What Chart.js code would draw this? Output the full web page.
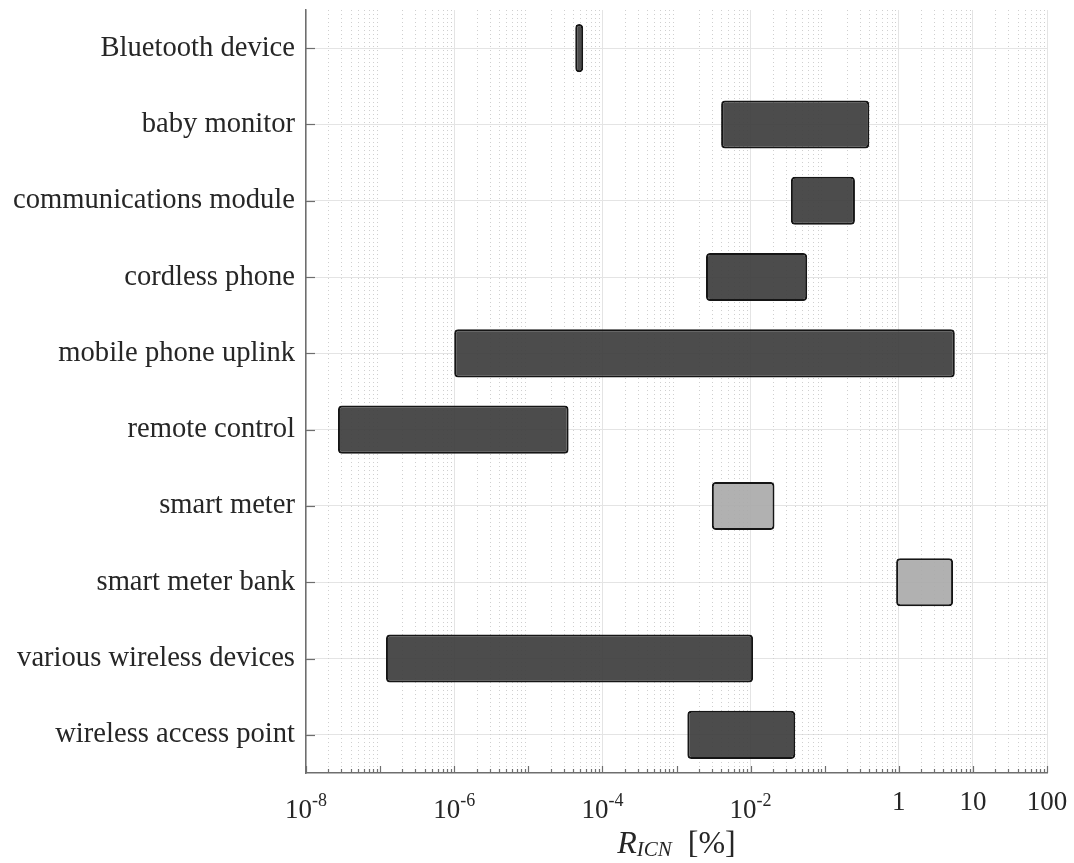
<!DOCTYPE html>
<html lang="en">
<head>
    <meta charset="UTF-8">
    <meta name="viewport" content="width=device-width, initial-scale=1.0">
    <title>R_ICN ranges</title>
    <style>
        html, body { margin: 0; padding: 0; background: #fff; }
        #wrap { width: 1074px; height: 863px; }
    </style>
</head>
<body>
    <div id="wrap">
        <canvas id="myChart"></canvas>
    </div>

    <script src="https://cdn.jsdelivr.net/npm/chart.js"></script>

    <script>
        // device categories, top to bottom
        const devices = [
            'Bluetooth device',
            'baby monitor',
            'communications module',
            'cordless phone',
            'mobile phone uplink',
            'remote control',
            'smart meter',
            'smart meter bank',
            'various wireless devices',
            'wireless access point'
        ];
        // lower / upper end of each range, in %
        const lowValues  = [4.3e-5, 4.0e-3, 0.035, 2.5e-3, 1.0e-6, 2.7e-8, 3.0e-3, 0.92, 1.2e-7, 1.4e-3];
        const highValues = [5.5e-5, 0.40, 0.256, 0.058, 5.7, 3.5e-5, 0.021, 5.4, 0.0108, 0.040];
        // lighter bars for the smart meter entries
        const isMeter = [false, false, false, false, false, false, true, true, false, false];

        // x axis labels: [mantissa, exponent]
        const tickValues = [1e-8, 1e-6, 1e-4, 1e-2, 1, 10, 100];
        const tickLabels = [['10', '-8'], ['10', '-6'], ['10', '-4'], ['10', '-2'], ['1', ''], ['10', ''], ['100', '']];

        const SERIF = '"Liberation Serif", "Times New Roman", serif';

        const ranges = devices.map((d, i) => [lowValues[i], highValues[i]]);

        // dotted minor grid, inward ticks, x labels and axis title
        const axisDecor = {
            id: 'axisDecor',
            beforeDatasetsDraw(chart) {
                const {ctx, chartArea: a, scales: {x}} = chart;
                ctx.save();
                ctx.strokeStyle = '#cfcfcf';
                ctx.lineWidth = 1;
                ctx.setLineDash([1, 3]);
                for (let e = -8; e < 2; e++) {
                    for (let k = 2; k <= 9; k++) {
                        const px = Math.round(x.getPixelForValue(k * Math.pow(10, e))) + 0.5;
                        ctx.beginPath();
                        ctx.moveTo(px, a.top);
                        ctx.lineTo(px, a.bottom);
                        ctx.stroke();
                    }
                }
                ctx.restore();
            },
            afterDraw(chart) {
                const {ctx, chartArea: a, scales: {x, y}} = chart;
                ctx.save();
                ctx.strokeStyle = '#6e6e6e';
                ctx.lineWidth = 1.2;
                // bottom ticks pointing up
                for (let e = -8; e <= 2; e++) {
                    for (let k = 1; k <= 9; k++) {
                        const v = k * Math.pow(10, e);
                        if (v > 100 * 1.0001) break;
                        const px = Math.round(x.getPixelForValue(v)) + 0.5;
                        const len = k === 1 ? 7 : 4;
                        ctx.beginPath();
                        ctx.moveTo(px, a.bottom);
                        ctx.lineTo(px, a.bottom - len);
                        ctx.stroke();
                    }
                }
                // left ticks pointing right
                devices.forEach((d, i) => {
                    const py = Math.round(y.getPixelForValue(i)) + 0.5;
                    ctx.beginPath();
                    ctx.moveTo(a.left, py);
                    ctx.lineTo(a.left + 9, py);
                    ctx.stroke();
                });

                // x tick labels with superscript exponents
                ctx.fillStyle = '#262626';
                ctx.textBaseline = 'alphabetic';
                ctx.textAlign = 'left';
                tickValues.forEach((v, i) => {
                    const [base, exp] = tickLabels[i];
                    const px = x.getPixelForValue(v);
                    ctx.font = '27px ' + SERIF;
                    const wb = ctx.measureText(base).width;
                    ctx.font = '18px ' + SERIF;
                    const we = exp ? ctx.measureText(exp).width : 0;
                    const x0 = px - (wb + we) / 2;
                    const baseY = exp ? a.bottom + 45 : a.bottom + 37;
                    ctx.font = '27px ' + SERIF;
                    ctx.fillText(base, x0, baseY);
                    if (exp) {
                        ctx.font = '18px ' + SERIF;
                        ctx.fillText(exp, x0 + wb, baseY - 12);
                    }
                });

                // axis title: R_ICN [%]
                const cx = (a.left + a.right) / 2;
                const ty = a.bottom + 80;
                ctx.font = 'italic 32px ' + SERIF;
                const wR = ctx.measureText('R').width;
                ctx.font = 'italic 21px ' + SERIF;
                const wSub = ctx.measureText('ICN').width;
                ctx.font = '32px ' + SERIF;
                const wUnit = ctx.measureText('[%]').width;
                const gap = 16;
                let tx = cx - (wR + wSub + gap + wUnit) / 2;
                ctx.font = 'italic 32px ' + SERIF;
                ctx.fillText('R', tx, ty);
                tx += wR;
                ctx.font = 'italic 21px ' + SERIF;
                ctx.fillText('ICN', tx, ty + 3);
                tx += wSub + gap;
                ctx.font = '32px ' + SERIF;
                ctx.fillText('[%]', tx, ty);
                ctx.restore();
            }
        };

        const ctx = document.getElementById('myChart');

        new Chart(ctx, {
            type: 'bar',
            data: {
                labels: devices,
                datasets: [{
                    data: ranges,
                    backgroundColor: isMeter.map(m => m ? 'rgba(170,170,170,0.92)' : 'rgba(62,62,62,0.93)'),
                    borderColor: '#151515',
                    borderWidth: 2,
                    borderRadius: 4,
                    borderSkipped: false,
                    barPercentage: 0.63,
                    categoryPercentage: 1.0
                }]
            },
            options: {
                indexAxis: 'y',
                responsive: true,
                maintainAspectRatio: false,
                animation: false,
                layout: { padding: { top: 10, right: 27, left: 0, bottom: 0 } },
                plugins: {
                    legend: { display: false },
                    tooltip: { enabled: false }
                },
                scales: {
                    x: {
                        type: 'logarithmic',
                        min: 1e-8,
                        max: 100,
                        afterBuildTicks: (scale) => {
                            scale.ticks = tickValues.map(v => ({ value: v }));
                        },
                        afterFit: (scale) => {
                            scale.height = 90;
                            scale.paddingLeft = 0;
                            scale.paddingRight = 0;
                        },
                        ticks: { display: false },
                        grid: { color: '#e4e4e4', lineWidth: 1, drawTicks: false },
                        border: { color: '#6e6e6e', width: 1.5 }
                    },
                    y: {
                        type: 'category',
                        afterFit: (scale) => {
                            scale.width = 306;
                            scale.paddingTop = 0;
                            scale.paddingBottom = 0;
                        },
                        ticks: {
                            color: '#262626',
                            padding: 11,
                            font: { family: SERIF, size: 28.6 }
                        },
                        grid: { color: '#e4e4e4', lineWidth: 1, drawTicks: false, offset: false },
                        border: { color: '#6e6e6e', width: 1.5 }
                    }
                }
            },
            plugins: [axisDecor]
        });
    </script>
</body>
</html>
